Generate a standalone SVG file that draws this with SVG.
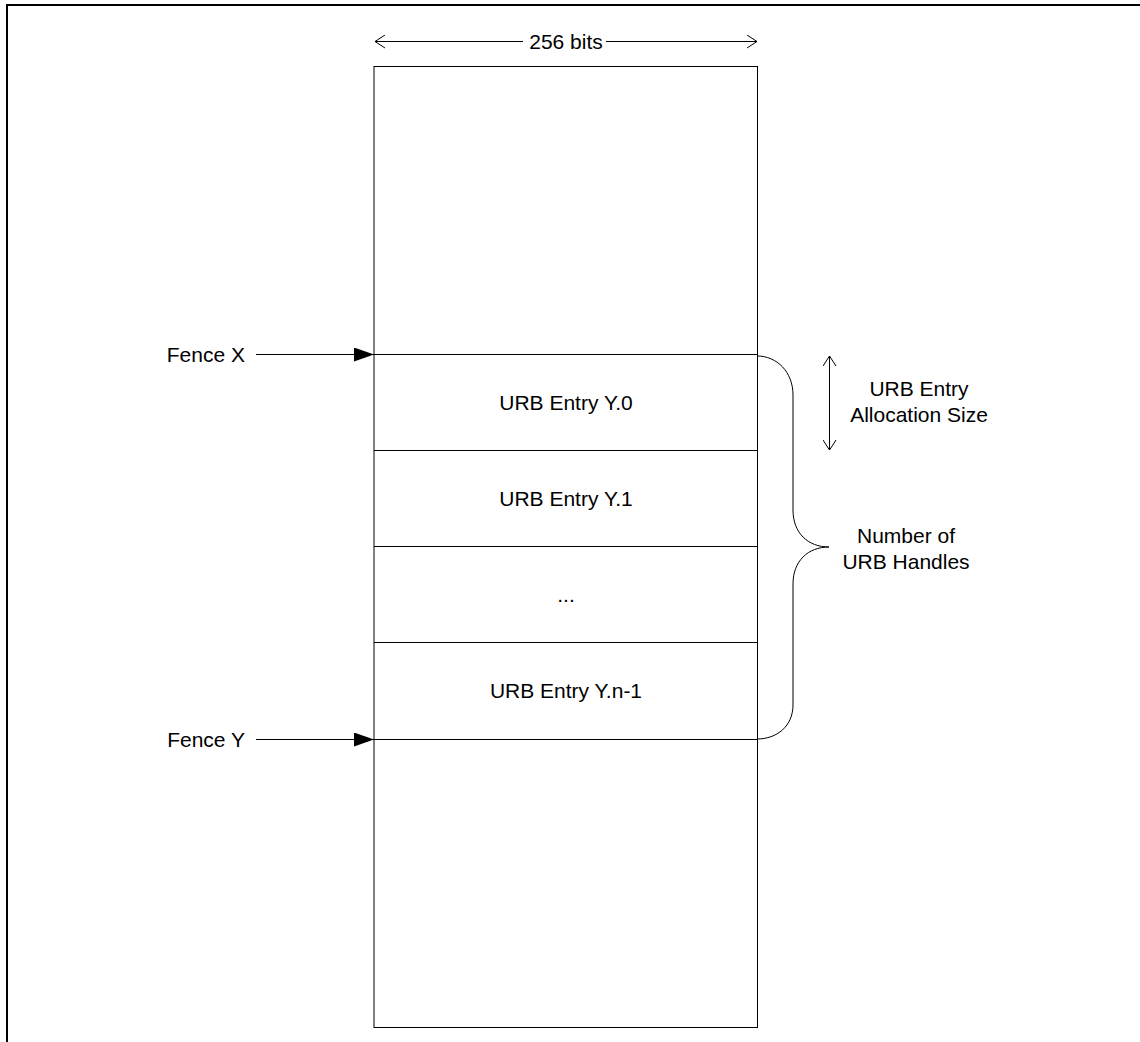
<svg xmlns="http://www.w3.org/2000/svg" width="1140" height="1042" viewBox="0 0 1140 1042">
<defs>
<style>
text{font-family:"Liberation Sans",Arial,sans-serif;font-size:21px;fill:#000}
.ln{stroke:#000;stroke-width:1;fill:none}
.row{stroke:#000;stroke-width:1;fill:none}
</style>
<marker id="open" viewBox="0 0 10 14" refX="10" refY="7" markerWidth="10" markerHeight="14" markerUnits="userSpaceOnUse" orient="auto-start-reverse">
<path d="M0,0.5 L10,7 L0,13.5" fill="none" stroke="#000" stroke-width="1"/>
</marker>
<marker id="solid" viewBox="0 0 20 14" refX="20" refY="7" markerWidth="20" markerHeight="14" markerUnits="userSpaceOnUse" orient="auto">
<path d="M0,0 L20,7 L0,14 Z" fill="#000"/>
</marker>
</defs>
<rect width="1140" height="1042" fill="#fff"/>
<g id="frame"><path d="M7,1042 V5 H1140" fill="none" stroke="#000" stroke-width="2"/></g>
<g id="memory"><rect x="374" y="66.5" width="383.5" height="961" fill="#fff" stroke="#000" stroke-width="1"/></g>
<g id="entry0"><line class="row" x1="374" y1="354.5" x2="757.5" y2="354.5"/><text x="566" y="410" text-anchor="middle">URB Entry Y.0</text></g>
<g id="entry1"><line class="row" x1="374" y1="450.5" x2="757.5" y2="450.5"/><text x="566" y="506" text-anchor="middle">URB Entry Y.1</text></g>
<g id="entry2"><line class="row" x1="374" y1="546.5" x2="757.5" y2="546.5"/><text x="566" y="602" text-anchor="middle">...</text></g>
<g id="entryn"><line class="row" x1="374" y1="642.5" x2="757.5" y2="642.5"/><line class="row" x1="374" y1="739.5" x2="757.5" y2="739.5"/><text x="566" y="698" text-anchor="middle">URB Entry Y.n-1</text></g>
<g id="width-label"><text x="566" y="49" text-anchor="middle">256 bits</text></g>
<g id="fenceX"><text x="245" y="362" text-anchor="end">Fence X</text></g>
<g id="fenceY"><text x="245" y="747" text-anchor="end">Fence Y</text></g>
<g id="alloc-label"><text x="919" y="396" text-anchor="middle">URB Entry</text><text x="919" y="422" text-anchor="middle">Allocation Size</text></g>
<g id="handles-label"><text x="906" y="543" text-anchor="middle">Number of</text><text x="906" y="569" text-anchor="middle">URB Handles</text></g>
<g id="connectors">
<line class="ln" x1="523" y1="41.5" x2="375" y2="41.5" marker-end="url(#open)"/>
<line class="ln" x1="606" y1="41.5" x2="757" y2="41.5" marker-end="url(#open)"/>
<line class="ln" x1="256" y1="354.5" x2="374" y2="354.5" marker-end="url(#solid)"/>
<line class="ln" x1="256" y1="739.5" x2="374" y2="739.5" marker-end="url(#solid)"/>
<line class="ln" x1="829.5" y1="356" x2="829.5" y2="450" marker-start="url(#open)" marker-end="url(#open)"/>
<path class="ln" d="M757,356 C777,356 793,372 793,395 V510 C793,533 808,547 829,547 C808,547 793,561 793,584 V705 C793,726 777,739 757,739"/>
</g>
</svg>
